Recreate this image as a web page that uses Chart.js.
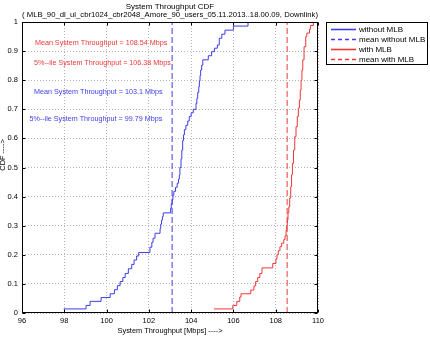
<!DOCTYPE html>
<html>
<head>
<meta charset="utf-8">
<title>System Throughput CDF</title>
<script src="https://cdn.jsdelivr.net/npm/chart.js"></script>
<style>
  html, body { margin: 0; padding: 0; background: #fff; }
  #wrap { width: 430px; height: 341px; }
</style>
</head>
<body>
<div id="wrap"><canvas id="cdf-chart" width="430" height="341"></canvas></div>
<script>
// values
var titleLines = [
    'System Throughput CDF',
    '( MLB_90_dl_ul_cbr1024_cbr2048_Amore_90_users_05.11.2013..18.00.09, Downlink)'
];
var xTicks = [96, 98, 100, 102, 104, 106, 108, 110];
var yTicks = [0, 0.1, 0.2, 0.3, 0.4, 0.5, 0.6, 0.7, 0.8, 0.9, 1];
var seriesLabels = ['without MLB', 'mean without MLB', 'with MLB', 'mean with MLB'];

// CDF without MLB (throughput in Mbps, cumulative fraction)
var withoutX = [97.97, 99.03, 99.22, 99.74, 100.17, 100.37, 100.51, 100.64, 100.77, 100.88,
    101.03, 101.19, 101.30, 101.42, 101.52, 102.05, 102.14, 102.20, 102.29, 102.53,
    102.56, 102.60, 102.64, 102.68, 103.03, 103.06, 103.10, 103.14, 103.18, 103.26,
    103.34, 103.40, 103.44, 103.47, 103.52, 103.56, 103.60, 103.64, 103.68, 103.75,
    103.84, 103.91, 104.00, 104.10, 104.23, 104.27, 104.31, 104.36, 104.39, 104.42,
    104.45, 104.50, 104.55, 104.81, 104.97, 105.10, 105.24, 105.33, 105.45, 105.60,
    106.00, 106.69];
var withoutP = [0.014, 0.026, 0.040, 0.053, 0.066, 0.080, 0.094, 0.108, 0.122, 0.136,
    0.152, 0.167, 0.182, 0.196, 0.208, 0.226, 0.243, 0.257, 0.274, 0.290,
    0.305, 0.319, 0.331, 0.344, 0.360, 0.375, 0.390, 0.405, 0.418, 0.432,
    0.446, 0.460, 0.474, 0.500, 0.530, 0.560, 0.593, 0.612, 0.630, 0.645,
    0.660, 0.675, 0.688, 0.700, 0.720, 0.738, 0.758, 0.778, 0.797, 0.816,
    0.835, 0.852, 0.870, 0.884, 0.898, 0.910, 0.921, 0.944, 0.958, 0.972,
    0.986, 1.000];

// CDF with MLB
var withX = [105.08, 105.97, 106.16, 106.30, 106.36, 106.82, 106.97, 107.05, 107.15, 107.25,
    107.35, 107.86, 108.01, 108.06, 108.12, 108.20, 108.28, 108.38, 108.44, 108.49,
    108.52, 108.55, 108.58, 108.62, 108.66, 108.71, 108.75, 108.79, 108.84, 108.90,
    108.96, 109.02, 109.07, 109.12, 109.16, 109.20, 109.24, 109.28, 109.34, 109.42,
    109.47, 109.60, 109.64, 109.78, 109.85];
var withP = [0.014, 0.026, 0.040, 0.055, 0.066, 0.079, 0.093, 0.108, 0.122, 0.136,
    0.155, 0.170, 0.186, 0.200, 0.214, 0.228, 0.240, 0.252, 0.265, 0.285,
    0.300, 0.320, 0.345, 0.365, 0.395, 0.434, 0.475, 0.514, 0.560, 0.606,
    0.640, 0.675, 0.704, 0.732, 0.766, 0.800, 0.835, 0.870, 0.915, 0.950,
    0.962, 0.975, 0.988, 1.000, 1.000];

var meanWithout = 103.1;
var meanWith = 108.54;
var pct5Without = 99.79;
var pct5With = 106.38;

var BLUE = '#3c3ceb';
var RED = '#ee3737';
var seriesColors = [BLUE, BLUE, RED, RED];
var seriesDashed = [false, true, false, true];
var FONT = '"Liberation Sans", Arial, Helvetica, sans-serif';

function toPoints(xs, ys) {
    return xs.map(function (x, i) { return { x: x, y: ys[i] }; });
}

// MATLAB-like frame, inward ticks, text notes and boxed legend
var matlabFrame = {
    id: 'matlabFrame',
    beforeDraw: function (chart) {
        var ctx = chart.ctx;
        ctx.save();
        ctx.fillStyle = '#fff';
        ctx.fillRect(0, 0, chart.width, chart.height);
        ctx.restore();
    },
    afterDraw: function (chart) {
        var ctx = chart.ctx, a = chart.chartArea;
        var sx = chart.scales.x, sy = chart.scales.y;
        var L = Math.round(a.left) + 0.5, R = Math.round(a.right) - 0.5;
        var T = Math.round(a.top) + 0.5, B = Math.round(a.bottom) - 0.5;
        ctx.save();
        ctx.setLineDash([]);
        ctx.strokeStyle = '#000';
        ctx.lineWidth = 1;
        ctx.strokeRect(L, T, R - L, B - T);

        // inward ticks on all four sides
        ctx.beginPath();
        xTicks.forEach(function (v) {
            var px = Math.round(sx.getPixelForValue(v)) + 0.5;
            ctx.moveTo(px, B); ctx.lineTo(px, B - 3);
            ctx.moveTo(px, T); ctx.lineTo(px, T + 3);
        });
        yTicks.forEach(function (v) {
            var py = Math.round(sy.getPixelForValue(v)) + 0.5;
            ctx.moveTo(L, py); ctx.lineTo(L + 3, py);
            ctx.moveTo(R, py); ctx.lineTo(R - 3, py);
        });
        ctx.stroke();

        // notes
        var notes = [
            { text: 'Mean System Throughput = ' + meanWith + ' Mbps', x: 96.61, y: 0.929, color: RED },
            { text: '5%--ile System Throughput = ' + pct5With + ' Mbps', x: 96.57, y: 0.858, color: RED },
            { text: 'Mean System Throughput = ' + meanWithout + ' Mbps', x: 96.57, y: 0.760, color: BLUE },
            { text: '5%--ile System Throughput = ' + pct5Without + ' Mbps', x: 96.35, y: 0.666, color: BLUE }
        ];
        ctx.font = '7.2px ' + FONT;
        ctx.textAlign = 'left';
        ctx.textBaseline = 'middle';
        notes.forEach(function (n) {
            ctx.fillStyle = n.color;
            ctx.fillText(n.text, sx.getPixelForValue(n.x), sy.getPixelForValue(n.y));
        });

        // y axis title (partly clipped at the left edge, as in the source)
        ctx.save();
        ctx.translate(2.5, 155);
        ctx.rotate(-Math.PI / 2);
        ctx.fillStyle = '#000';
        ctx.font = '7.4px ' + FONT;
        ctx.textAlign = 'center';
        ctx.fillText('CDF ---->', 0, 0);
        ctx.restore();

        // legend box
        var lx = 326.5, ly = 22.5, lw = 101, lh = 42;
        ctx.fillStyle = '#fff';
        ctx.fillRect(lx, ly, lw, lh);
        ctx.strokeStyle = '#000';
        ctx.strokeRect(lx, ly, lw, lh);
        ctx.font = '8px ' + FONT;
        seriesLabels.forEach(function (label, i) {
            var yy = 29.5 + i * 10;
            ctx.strokeStyle = seriesColors[i];
            ctx.lineWidth = 1.6;
            ctx.setLineDash(seriesDashed[i] ? [4, 3] : []);
            ctx.beginPath();
            ctx.moveTo(331, yy);
            ctx.lineTo(356, yy);
            ctx.stroke();
            ctx.setLineDash([]);
            ctx.fillStyle = '#000';
            ctx.fillText(label, 359, yy);
        });
        ctx.restore();
    }
};

var ctx = document.getElementById('cdf-chart').getContext('2d');
var chart = new Chart(ctx, {
    type: 'scatter',
    data: {
        datasets: [
            { label: seriesLabels[0], data: toPoints(withoutX, withoutP), showLine: true, stepped: 'before',
              borderColor: seriesColors[0], borderWidth: 1, pointRadius: 0 },
            { label: seriesLabels[1], data: [{ x: meanWithout, y: 0 }, { x: meanWithout, y: 1 }], showLine: true,
              borderColor: seriesColors[1], borderWidth: 1, borderDash: [6, 3], pointRadius: 0 },
            { label: seriesLabels[2], data: toPoints(withX, withP), showLine: true, stepped: 'before',
              borderColor: seriesColors[2], borderWidth: 1, pointRadius: 0 },
            { label: seriesLabels[3], data: [{ x: meanWith, y: 0 }, { x: meanWith, y: 1 }], showLine: true,
              borderColor: seriesColors[3], borderWidth: 1, borderDash: [6, 3], pointRadius: 0 }
        ]
    },
    options: {
        responsive: false,
        animation: false,
        devicePixelRatio: 1,
        layout: { padding: { left: 0, top: 0, right: 112, bottom: 0 } },
        plugins: {
            legend: { display: false },
            tooltip: { enabled: false },
            title: {
                display: true,
                text: titleLines,
                fullSize: false,
                color: '#000',
                font: { family: FONT, size: 8, weight: 'normal', lineHeight: 1.1 },
                padding: { top: 2, bottom: 2.4 }
            }
        },
        scales: {
            x: {
                type: 'linear',
                min: 96, max: 110,
                afterBuildTicks: function (s) { s.ticks = xTicks.map(function (v) { return { value: v }; }); },
                afterFit: function (s) { s.height = 28; },
                ticks: { color: '#000', font: { family: FONT, size: 7.5 }, padding: 3, maxRotation: 0, autoSkip: false },
                grid: { color: '#b4b4b4', lineWidth: 1, drawTicks: false },
                border: { display: false, dash: [1, 2] },
                title: {
                    display: true,
                    text: 'System Throughput [Mbps] ---->',
                    color: '#000',
                    font: { family: FONT, size: 7.4 },
                    padding: { top: 0, bottom: 5.5 }
                }
            },
            y: {
                type: 'linear',
                min: 0, max: 1,
                afterBuildTicks: function (s) { s.ticks = yTicks.map(function (v) { return { value: v }; }); },
                afterFit: function (s) { s.width = 22; },
                ticks: {
                    color: '#000', font: { family: FONT, size: 7.5 }, padding: 4, autoSkip: false,
                    callback: function (v) { return String(Math.round(v * 10) / 10); }
                },
                grid: { color: '#b4b4b4', lineWidth: 1, drawTicks: false },
                border: { display: false, dash: [1, 2] }
            }
        }
    },
    plugins: [matlabFrame]
});
</script>
</body>
</html>
